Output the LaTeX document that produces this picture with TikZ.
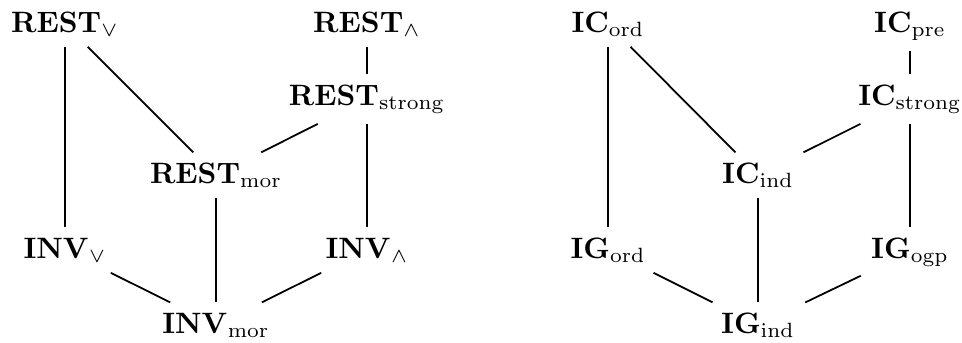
\documentclass[tikz,border=0pt]{standalone}
\begin{document}
\begin{tikzpicture}[x=0.339pt,y=-0.339pt,
  lbl/.style={anchor=base},
  edge/.style={line width=0.6pt}]
\useasboundingbox (0,0) rectangle (962,342);
% left diagram
\node[lbl] (rv) at (65,32) {$\mathbf{REST}_\vee$};
\node[lbl] (ra) at (367,32) {$\mathbf{REST}_\wedge$};
\node[lbl] (rs) at (367,105) {$\mathbf{REST}_{\mathrm{strong}}$};
\node[lbl] (rm) at (216,183) {$\mathbf{REST}_{\mathrm{mor}}$};
\node[lbl] (iv) at (65,258) {$\mathbf{INV}_\vee$};
\node[lbl] (ia) at (367,258) {$\mathbf{INV}_\wedge$};
\node[lbl] (im) at (216,333) {$\mathbf{INV}_{\mathrm{mor}}$};
\draw[edge] (rv) -- (iv);
\draw[edge] (rv) -- (rm);
\draw[edge] (ra) -- (rs);
\draw[edge] (rs) -- (rm);
\draw[edge] (rs) -- (ia);
\draw[edge] (rm) -- (im);
\draw[edge] (iv) -- (im);
\draw[edge] (ia) -- (im);
% right diagram
\node[lbl] (co) at (608,32) {$\mathbf{IC}_{\mathrm{ord}}$};
\node[lbl] (cp) at (910,32) {$\mathbf{IC}_{\mathrm{pre}}$};
\node[lbl] (cs) at (910,105) {$\mathbf{IC}_{\mathrm{strong}}$};
\node[lbl] (ci) at (758,183) {$\mathbf{IC}_{\mathrm{ind}}$};
\node[lbl] (go) at (608,258) {$\mathbf{IG}_{\mathrm{ord}}$};
\node[lbl] (gp) at (910,258) {$\mathbf{IG}_{\mathrm{ogp}}$};
\node[lbl] (gi) at (758,333) {$\mathbf{IG}_{\mathrm{ind}}$};
\draw[edge] (co) -- (go);
\draw[edge] (co) -- (ci);
\draw[edge] (cp) -- (cs);
\draw[edge] (cs) -- (ci);
\draw[edge] (cs) -- (gp);
\draw[edge] (ci) -- (gi);
\draw[edge] (go) -- (gi);
\draw[edge] (gp) -- (gi);
\end{tikzpicture}
\end{document}
